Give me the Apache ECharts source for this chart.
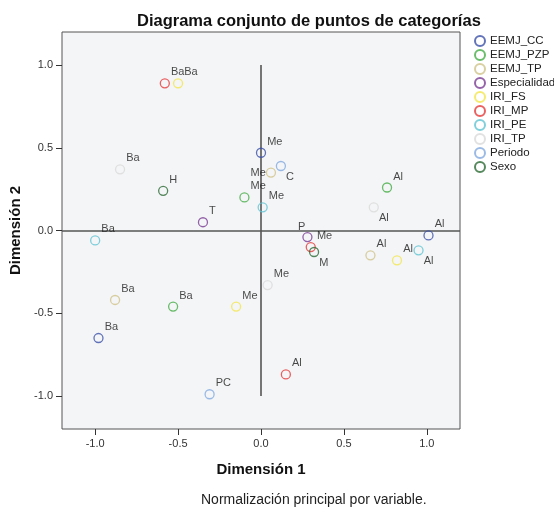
<!DOCTYPE html>
<html><head><meta charset="utf-8">
<script src="https://cdn.jsdelivr.net/npm/echarts@6/dist/echarts.min.js"></script>
<style>html,body{margin:0;padding:0;background:#fff}#c{width:554px;height:509px}</style>
</head><body><div id="c"></div>
<script>
// ---- data: [Dimensión 1, Dimensión 2, categoría] ----
const seriesNames = ['EEMJ_CC','EEMJ_PZP','EEMJ_TP','Especialidad','IRI_FS','IRI_MP','IRI_PE','IRI_TP','Periodo','Sexo'];
const EEMJ_CC      = [[0.00, 0.47,'Me'], [1.01,-0.03,'Al'], [-0.98,-0.65,'Ba']];
const EEMJ_PZP     = [[-0.10, 0.20,'Me'], [0.76, 0.26,'Al'], [-0.53,-0.46,'Ba']];
const EEMJ_TP      = [[0.06, 0.35,'Me'], [0.66,-0.15,'Al'], [-0.88,-0.42,'Ba']];
const Especialidad = [[-0.35, 0.05,'T'], [0.28,-0.04,'P']];
const IRI_FS       = [[-0.50, 0.89,'Ba'], [0.82,-0.18,'Al'], [-0.15,-0.46,'Me']];
const IRI_MP       = [[-0.58, 0.89,'Ba'], [0.30,-0.10,'Me'], [0.15,-0.87,'Al']];
const IRI_PE       = [[0.01, 0.14,'Me'], [-1.00,-0.06,'Ba'], [0.95,-0.12,'Al']];
const IRI_TP       = [[-0.85, 0.37,'Ba'], [0.68, 0.14,'Al'], [0.04,-0.33,'Me']];
const Periodo      = [[0.12, 0.39,'C'], [-0.31,-0.99,'PC']];
const Sexo         = [[-0.59, 0.24,'H'], [0.32,-0.13,'M']];
const xTicks = [-1.0, -0.5, 0.0, 0.5, 1.0];
const yTicks = [-1.0, -0.5, 0.0, 0.5, 1.0];
const refH = 0;            // horizontal reference line at Dimensión 2 = 0
const refV = [0, -1, 1];   // vertical reference line at Dimensión 1 = 0, from -1 to 1

// ---- styles ----
const colors = {
  EEMJ_CC:'#3b50a8', EEMJ_PZP:'#45ad45', EEMJ_TP:'#cfc388', Especialidad:'#7b3c94',
  IRI_FS:'#f3e64c', IRI_MP:'#e63a3a', IRI_PE:'#5fc4d2', IRI_TP:'#d9d9d9',
  Periodo:'#82aae0', Sexo:'#2c6a35'
};
const placement = {
  'EEMJ_TP|Me':'l', 'Periodo|C':'dr', 'IRI_TP|Al':'dr', 'Sexo|M':'dr',
  'IRI_PE|Al':'dr', 'Especialidad|P':'ul'
};
const placeStyle = {
  ur: {position:'right', distance:1, offset:[0,-11]},
  dr: {position:'right', distance:0, offset:[0,11]},
  l:  {position:'left', distance:0, offset:[0,0]},
  ul: {position:'left', distance:0, offset:[3,-10]}
};
const dataBySeries = {EEMJ_CC, EEMJ_PZP, EEMJ_TP, Especialidad, IRI_FS, IRI_MP, IRI_PE, IRI_TP, Periodo, Sexo};
const FONT = 'Liberation Sans, Arial, Helvetica, sans-serif';

const series = seriesNames.map((name, i) => {
  const s = {
    name, type:'scatter', symbol:'circle', symbolSize:9,
    itemStyle:{color:'rgba(0,0,0,0)', borderColor:colors[name], borderWidth:1.3},
    label:{show:true, formatter:'{b}', color:'#1a1a1a', fontSize:11, fontFamily:FONT},
    emphasis:{disabled:true},
    z:3,
    data: dataBySeries[name].map(d => ({
      value:[d[0], d[1]], name:d[2],
      label: Object.assign({}, placeStyle[placement[name + '|' + d[2]] || 'ur'])
    }))
  };
  if (i === 0) {
    s.markLine = {
      silent:true, symbol:'none', z:1,
      label:{show:false},
      lineStyle:{color:'#555', width:1.6, type:'solid'},
      data:[
        {yAxis:refH},
        [{coord:[refV[0], refV[1]]}, {coord:[refV[0], refV[2]]}]
      ]
    };
  }
  return s;
});

const chart = echarts.init(document.getElementById('c'), null, {renderer:'canvas'});
chart.setOption({
  animation:false,
  backgroundColor:'#ffffff',
  textStyle:{fontFamily:FONT},
  title:{
    text:'Diagrama conjunto de puntos de categorías',
    left:132, top:8,
    textStyle:{fontSize:16.5, fontWeight:'bold', color:'#111', fontFamily:FONT}
  },
  legend:{
    orient:'vertical', left:474, top:34, padding:0,
    icon:'circle', itemWidth:10, itemHeight:10, itemGap:0,
    textStyle:{fontSize:11.5, lineHeight:14, color:'#222', fontFamily:FONT},
    data:seriesNames
  },
  grid:{
    left:62, top:32, width:398, height:397,
    show:true, backgroundColor:'#f4f5f7', borderColor:'#555', borderWidth:1
  },
  xAxis:{
    type:'value', min:-1.2, max:1.2,
    name:'Dimensión 1', nameLocation:'middle', nameGap:33,
    nameTextStyle:{fontSize:15, fontWeight:'bold', color:'#111', fontFamily:FONT},
    axisLine:{show:false, onZero:false},
    axisTick:{show:true, length:6, lineStyle:{color:'#333'}, customValues:xTicks},
    axisLabel:{customValues:xTicks, formatter:v=>v.toFixed(1), fontSize:11, color:'#333', margin:9, fontFamily:FONT},
    splitLine:{show:false}
  },
  yAxis:{
    type:'value', min:-1.2, max:1.2,
    name:'Dimensión 2', nameLocation:'middle', nameGap:36, nameRotate:90,
    nameTextStyle:{fontSize:15, fontWeight:'bold', color:'#111', fontFamily:FONT},
    axisLine:{show:false, onZero:false},
    axisTick:{show:true, length:6, lineStyle:{color:'#333'}, customValues:yTicks},
    axisLabel:{customValues:yTicks, formatter:v=>v.toFixed(1), fontSize:11, color:'#333', margin:9, fontFamily:FONT},
    splitLine:{show:false}
  },
  graphic:[{
    type:'text', left:201, top:493,
    style:{text:'Normalización principal por variable.', fontSize:14, fill:'#222', font:'14px ' + FONT}
  }],
  series
});
</script>
</body></html>
